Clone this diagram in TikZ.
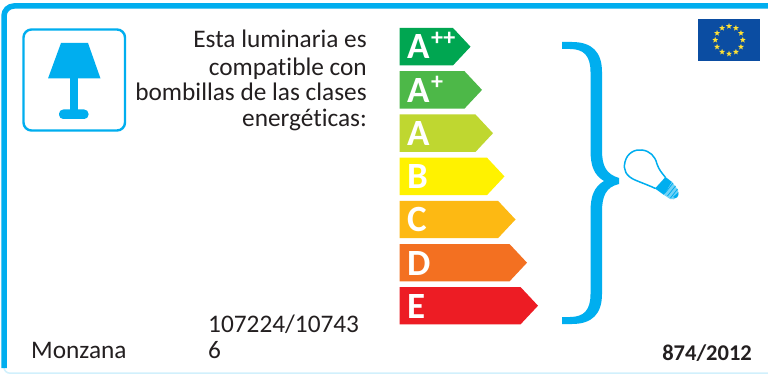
\documentclass[tikz,border=0pt]{standalone}
\usepackage{fontspec}
\setmainfont{Carlito}[RawFeature=-liga]
\usetikzlibrary{shapes.geometric}
\definecolor{cy}{HTML}{00AEEF}
\definecolor{eu}{HTML}{0B4DA2}
\definecolor{starc}{HTML}{FFE135}
\definecolor{c1}{HTML}{00A651}
\definecolor{c2}{HTML}{4DB848}
\definecolor{c3}{HTML}{BFD730}
\definecolor{c4}{HTML}{FFF200}
\definecolor{c5}{HTML}{FDB913}
\definecolor{c6}{HTML}{F37021}
\definecolor{c7}{HTML}{ED1C24}
\definecolor{txt}{HTML}{231F20}
\tikzset{
  body/.style={font=\fontsize{25.3}{28}\selectfont,text=txt,inner sep=0pt,anchor=base},
  grade/.style={font=\fontsize{37}{37}\selectfont\bfseries,text=white,inner sep=0pt,anchor=base west},
  sup/.style={font=\fontsize{24}{24}\selectfont\bfseries,text=white,inner sep=0pt,anchor=base west},
  euStar/.style={star,star points=5,star point ratio=2.4,fill=starc,draw=none,minimum size=6.2pt,inner sep=0pt}
}
\newcommand{\grarrow}[4]{%
  \fill[#1] (399.5,#2) -- (#3-17.5,#2) -- (#3,#2+18.7) -- (#3-17.5,#2+37.4) -- (399.5,#2+37.4) -- cycle;
  \node[grade] (g#4) at (407,#2+31) {#4};
}
\begin{document}
\begin{tikzpicture}[x=1pt,y=-1pt]
\useasboundingbox (0,0) rectangle (768,374);
\fill[white] (0,0) rectangle (768,374);
% outer frame
\draw[cy!18,line width=1.5pt,rounded corners=6pt] (4,360) -- (4,373.2) -- (768,373.2);
\draw[cy,line width=5.5pt,rounded corners=10pt] (768,6) -- (4,6) -- (4,368);
% lamp icon
\draw[cy,line width=2.4pt,rounded corners=8pt] (23.5,29.5) rectangle (125,130.5);
\fill[cy] (61,43) -- (88,43) -- (100.5,78.5) -- (48,78.5) -- cycle;
\fill[cy] (70,78) rectangle (78,112);
\fill[cy,rounded corners=4.3pt] (59,109.5) rectangle (88.5,119);
% text
\node[body,anchor=base east] (t1) at (367,48) {Esta luminaria es};
\node[body,anchor=base east] (t2) at (367,75.5) {compatible con};
\node[body,anchor=base east] (t3) at (367,101) {bombillas de las clases};
\node[body,anchor=base east] (t4) at (367,127) {energéticas:};
\node[body,anchor=base west] (brand) at (31,358) {Monzana};
\node[body,anchor=base west] (code1) at (208,332) {107224/10743};
\node[body,anchor=base west] (code2) at (208,358) {6};
\node[font=\fontsize{22.5}{24}\selectfont\bfseries,text=txt,inner sep=0pt,anchor=base east] (reg) at (752,360) {874/2012};
% arrows
\grarrow{c1}{28}{470.5}{A}
\node[sup] (p1) at (431,46) {++};
\grarrow{c2}{71.2}{482}{A}
\node[sup] (p2) at (431,90) {+};
\grarrow{c3}{114.5}{493}{A}
\grarrow{c4}{157.7}{504.5}{B}
\grarrow{c5}{200.8}{515.5}{C}
\grarrow{c6}{244}{527}{D}
\grarrow{c7}{287}{538}{E}
% brace
\fill[cy] (562,42) -- (572,42) .. controls (592,42) and (602,52) .. (602,72)
  -- (602,150) .. controls (602,166) and (606,174) .. (619,178) -- (619,184)
  .. controls (606,187) and (602,196) .. (602,212) -- (602,294)
  .. controls (602,314) and (592,324) .. (572,324) -- (562,324) -- (562,317) -- (570,317)
  .. controls (584,317) and (590.5,310) .. (590.5,294) -- (590.5,212)
  .. controls (590.5,196) and (594,187) .. (604,181)
  .. controls (594,175) and (590.5,166) .. (590.5,150) -- (590.5,72)
  .. controls (590.5,56) and (584,49) .. (570,49) -- (562,49) -- cycle;
% bulb
\draw[cy,line width=1.5pt] (655.5,188.5) .. controls (648,185) and (642,183) .. (635,180)
  .. controls (626,176) and (623,170) .. (625,162)
  .. controls (627,153) and (635,149) .. (642,150)
  .. controls (650,151) and (655,156) .. (657,164)
  .. controls (659,170) and (662,173) .. (665.5,177.5);
\fill[cy] (655,188.5) -- (665.5,177) -- (672,182) -- (664,195) -- cycle;
\fill[cy!55] (664,195) -- (672,182) -- (678,190) .. controls (680,196) and (675,201) .. (670,199) -- cycle;
\fill[cy] (673,197) .. controls (676,199.5) and (679,197) .. (678.5,192) -- cycle;
\foreach \a/\b/\c/\d in {665/193/673/183, 667.5/196/675.5/186, 670.5/198/677.5/189}
  \draw[cy,line width=0.8pt] (\a,\b) -- (\c,\d);
% EU flag
\fill[eu] (698,19) rectangle (760,61);
\foreach \i in {0,...,11}
  \node[euStar] (star\i) at ({729+13.8*cos(30*\i)},{40-13.8*sin(30*\i)}) {};
\end{tikzpicture}
\end{document}
